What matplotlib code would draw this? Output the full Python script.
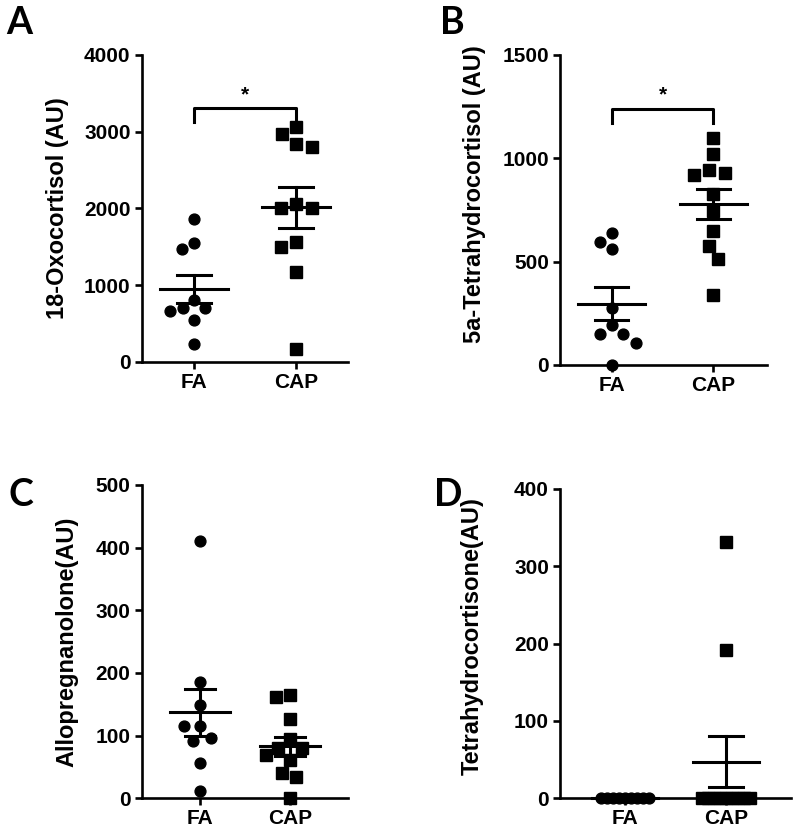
import numpy as np
import matplotlib
matplotlib.use("Agg")
import matplotlib.pyplot as plt

plt.rcParams['font.family'] = ['Liberation Sans', 'DejaVu Sans']
plt.rcParams['font.weight'] = 'bold'

groups = ["FA", "CAP"]

# values (AU)
oxo_fa = [1857, 1543, 1465, 804, 696, 665, 696, 543, 230]
oxo_cap = [2970, 3057, 2804, 2835, 2000, 2000, 2057, 1500, 1565, 1174, 161]
thf_fa = [597, 560, 640, 274, 194, 148, 150, 108, 0]
thf_cap = [1100, 1019, 944, 919, 931, 827, 745, 650, 576, 513, 339]
allo_fa = [411, 186, 149, 115, 115, 92, 97, 57, 11]
allo_cap = [161, 165, 126, 81, 94, 81, 69, 61, 40, 34, 0]
thc_fa = [0, 0, 0, 0, 0, 0, 0, 0, 0]
thc_cap = [331, 192, 0, 0, 0, 0, 0, 0, 0, 0, 0]

ylabels = ["18-Oxocortisol (AU)", "5a-Tetrahydrocortisol (AU)",
           "Allopregnanolone(AU)", "Tetrahydrocortisone(AU)"]
panel_letters = ["A", "B", "C", "D"]
ymax = [4000, 1500, 500, 400]
ystep = [1000, 500, 100, 100]
significant = [True, True, False, False]
data = [(oxo_fa, oxo_cap), (thf_fa, thf_cap), (allo_fa, allo_cap), (thc_fa, thc_cap)]

W, H = 800, 840
fig = plt.figure(figsize=(8, 8.4), dpi=100)

# axes boxes in pixels: left, right, top, bottom
boxes = [(141.7, 348, 55, 361.7), (560, 767, 55, 365),
         (141.7, 348.3, 485, 798.3), (560, 791, 489, 798.3)]
xlims = [(-0.512, 1.508), (-0.509, 1.528), (-0.648, 1.648), (-0.644, 1.643)]
ylab_xy = [(-0.35, 0.5), (-0.357, 0.55), (-0.308, 0.5), (-0.33, 0.525)]
letter_pos = [(6, 6), (440, 6), (8, 478), (434, 478)]


def swarm(ax, x0, values, dmin=16.0, max_px=24.0):
    pts = ax.transData.transform([(x0, v) for v in values])
    ys = pts[:, 1]
    order = np.argsort(-ys, kind='stable')
    xs = np.zeros(len(values))
    placed = []
    for i in order:
        cands = [0.0]
        for j in placed:
            dy = abs(ys[i] - ys[j])
            if dy < dmin:
                w = np.sqrt(dmin ** 2 - dy ** 2)
                cands += [xs[j] - w, xs[j] + w]
        ok = [c for c in cands
              if all((c - xs[j]) ** 2 + (ys[i] - ys[j]) ** 2 >= dmin ** 2 - 1e-6 for j in placed)]
        xs[i] = min(ok, key=lambda c: (round(abs(c), 6), c))
        placed.append(i)
    m = np.abs(xs).max()
    if m > max_px:
        xs *= max_px / m
    ppu = ax.transData.transform((1, 0))[0] - ax.transData.transform((0, 0))[0]
    return x0 + xs / ppu


for k in range(4):
    l, r, t, b = boxes[k]
    ax = fig.add_axes([l / W, 1 - b / H, (r - l) / W, (b - t) / H])
    ax.set_xlim(*xlims[k])
    ax.set_ylim(0, ymax[k])
    for s in ['top', 'right']:
        ax.spines[s].set_visible(False)
    for s in ['left', 'bottom']:
        ax.spines[s].set_linewidth(1.9)
    ax.tick_params(width=1.9, length=5, labelsize=15, pad=3)
    ax.set_xticks([0, 1])
    ax.set_xticklabels(groups, fontweight='bold')
    ax.set_yticks(np.arange(0, ymax[k] + 1, ystep[k]))
    for lab in ax.get_yticklabels():
        lab.set_fontweight('bold')
    ax.set_ylabel(ylabels[k], fontsize=17, fontweight='bold')
    ax.yaxis.set_label_coords(*ylab_xy[k])

    for g, vals in enumerate(data[k]):
        vals = np.array(vals, dtype=float)
        xs = swarm(ax, g, vals)
        ax.plot(xs, vals, linestyle='none', marker='o' if g == 0 else 's',
                markersize=7.8 if g == 0 else 8.2, color='black', clip_on=False, zorder=3)
        mean = vals.mean()
        sem = vals.std(ddof=1) / np.sqrt(len(vals))
        ax.plot([g - 0.33, g + 0.33], [mean, mean], color='black', lw=2.2, zorder=4, clip_on=False)
        if sem > 0:
            ax.plot([g, g], [mean - sem, mean + sem], color='black', lw=2.2, zorder=4)
            for yy in (mean - sem, mean + sem):
                ax.plot([g - 0.165, g + 0.165], [yy, yy], color='black', lw=2.2, zorder=4)

    if significant[k]:
        top = ymax[k] * 0.826
        leg = ymax[k] * 0.782
        ax.plot([0, 0, 1, 1], [leg, top, top, leg], color='black', lw=2.2, clip_on=False)
        ax.text(0.5, ymax[k] * 0.87, "*", ha='center', va='center', fontsize=15, fontweight='bold')

    lx, ly = letter_pos[k]
    fig.text(lx / W, 1 - ly / H, panel_letters[k], fontsize=27, fontweight='bold',
             family=['Lato', 'DejaVu Sans'], ha='left', va='top')

fig.savefig("out.png", dpi=100)
